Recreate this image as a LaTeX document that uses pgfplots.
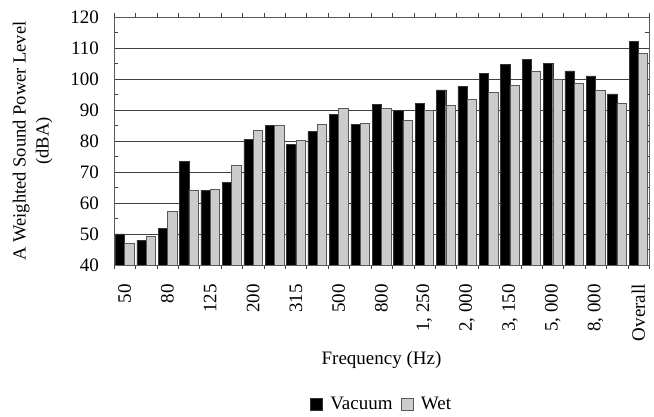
\documentclass[border=0pt]{standalone}
\usepackage{pgfplots}
\pgfplotsset{compat=1.18}
\usepackage{fontspec}
\setmainfont{Liberation Serif}

\definecolor{wetgray}{gray}{0.8}

\begin{document}
\begin{tikzpicture}[font=\fontsize{19}{23}\selectfont]
\begin{axis}[
    scale only axis,
    width=535pt, height=248pt,
    at={(0,0)}, anchor=south west,
    ybar=0pt, bar width=9.3pt,
    xmin=-0.5, xmax=24.5,
    ymin=40, ymax=120,
    ytick={40,50,...,120},
    minor y tick num=1,
    ymajorgrids,
    major grid style={black!75, line width=0.6pt},
    axis line style={black!65},
    tick style={black!75},
    xtick={0,2,...,24},
    xticklabels={50,80,125,200,315,500,800,{1, 250},{2, 000},{3, 150},{5, 000},{8, 000},Overall},
    minor xtick={-0.5,0.5,...,24.5},
    major x tick style={draw=none},
    minor tick length=4pt,
    major tick length=4pt,
    /pgf/number format/assume math mode=true,
    xticklabel style={rotate=90, anchor=east, inner sep=0pt, xshift=-15pt},
    yticklabel style={inner sep=0pt, xshift=-15pt},
    xlabel={Frequency (Hz)},
    xlabel style={at={(axis description cs:0.5,-0.383)}, anchor=center},
    ylabel={A Weighted Sound Power Level\\(dBA)},
    ylabel style={at={(axis description cs:-0.152,0.5)}, anchor=center, align=center,
        font=\fontsize{18.5}{23}\selectfont},
    legend style={at={(axis description cs:0.5,-0.52)}, anchor=north, draw=none,
        legend columns=2, column sep=6pt, inner sep=1pt},
    legend image code/.code={\draw[#1] (0pt,-6pt) rectangle (12pt,6pt);},
]
\addplot[fill=black, draw=black!80] coordinates {
(0,50.0) (1,48.0) (2,51.8) (3,73.4) (4,64.1) (5,66.6) (6,80.5) (7,85.0)
(8,78.9) (9,83.0) (10,88.5) (11,85.3) (12,91.9) (13,89.9) (14,92.2) (15,96.5)
(16,97.7) (17,101.8) (18,104.8) (19,106.3) (20,105.1) (21,102.6) (22,101.0) (23,95.2)
(24,112.2)};
\addlegendentry{Vacuum}
\addplot[fill=wetgray, draw=black!65] coordinates {
(0,46.9) (1,49.2) (2,57.4) (3,64.1) (4,64.4) (5,72.2) (6,83.5) (7,85.0)
(8,80.2) (9,85.3) (10,90.6) (11,85.6) (12,90.6) (13,86.8) (14,89.9) (15,91.4)
(16,93.4) (17,95.8) (18,98.0) (19,102.6) (20,100.0) (21,98.5) (22,96.5) (23,92.1)
(24,108.2)};
\addlegendentry{Wet}
\end{axis}
\path (-114pt,-152pt) rectangle (540pt,265pt);
\end{tikzpicture}
\end{document}
